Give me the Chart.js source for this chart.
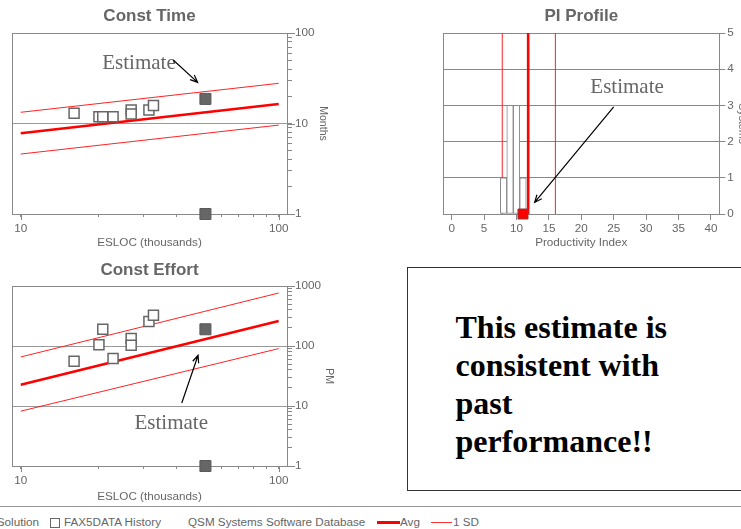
<!DOCTYPE html>
<html>
<head>
<meta charset="utf-8">
<script src="https://cdn.jsdelivr.net/npm/chart.js@4/dist/chart.umd.min.js"></script>
<style>
  html, body { margin: 0; padding: 0; background: #fff; }
  #page { position: relative; width: 741px; height: 529px; overflow: hidden; background: #fff;
          font-family: "Liberation Sans", Arial, sans-serif; color: #666; }
  canvas { position: absolute; }
  #cTime { left: 0; top: 0; }
  #cPi { left: 420px; top: 0; }
  #cEffort { left: 0; top: 254px; }
  #note { position: absolute; left: 407px; top: 267px; width: 400px; height: 224px; box-sizing: border-box;
          border: 1.5px solid #333; padding: 40px 0 0 47.5px; color: #000;
          font: bold 32px/38px "Liberation Serif", "Times New Roman", serif; }
  #rule { position: absolute; left: 0; top: 506px; width: 741px; height: 1px; background: #999; }
  .lg { position: absolute; top: 515px; font-size: 11.7px; line-height: 14px; white-space: nowrap; color: #666; }
  .sw { position: absolute; }
</style>
</head>
<body>
<div id="page">
  <canvas id="cTime" width="330" height="250"></canvas>
  <canvas id="cPi" width="330" height="250"></canvas>
  <canvas id="cEffort" width="336" height="250"></canvas>
  <div id="note">This estimate is<br>consistent with<br>past<br>performance!!</div>
  <div id="rule"></div>
  <div class="lg" style="right:702px">&#9632; Estimate Solution</div>
  <div class="sw" style="left:50px;top:518px;width:8px;height:8px;border:1px solid #666;"></div>
  <div class="lg" style="left:64px">FAX5DATA History</div>
  <div class="lg" style="left:188px">QSM Systems Software Database</div>
  <div class="sw" style="left:377px;top:520.5px;width:23px;height:3px;background:#f00;"></div>
  <div class="lg" style="left:400px">Avg</div>
  <div class="sw" style="left:431px;top:521.5px;width:21px;height:1px;background:#f33;"></div>
  <div class="lg" style="left:453px">1 SD</div>
</div>
<script>
// ---- size axis (ESLOC, thousands) ----
const sizeTicks = [10, 20, 30, 40, 50, 60, 70, 80, 90, 100];
const sizeTickLabels = [10, 100];

// ---- schedule axis (months) ----
const monthTicks = [1, 2, 3, 4, 5, 6, 7, 8, 9, 10, 20, 30, 40, 50, 60, 70, 80, 90, 100];
const monthTickLabels = [1, 10, 100];

// ---- effort axis (person-months) ----
const effortTicks = [1, 2, 3, 4, 5, 6, 7, 8, 9, 10, 20, 30, 40, 50, 60, 70, 80, 90,
                     100, 200, 300, 400, 500, 600, 700, 800, 900, 1000];
const effortTickLabels = [1, 10, 100, 1000];

// ---- productivity index axes ----
const piTicks = [0, 5, 10, 15, 20, 25, 30, 35, 40];
const systemTicks = [0, 1, 2, 3, 4, 5];

// ---- FAX5DATA history projects ----
const historySize   = [16.1, 20.1, 20.8, 22.8, 26.8, 26.8, 31.4, 32.7];
const historyTime   = [13.0, 11.9, 11.9, 11.9, 14.1, 12.7, 14.1, 15.8];
const historyEffort = [55.6, 105, 190, 61.7, 133, 103, 256, 325];

// ---- estimate solution ----
const estimateSize = 52;
const estimateTime = 18.7;
const estimateEffort = 190;
const estimateAxisValue = 1;

// ---- QSM database trend lines ----
const trendSize = [10, 100];
const timeAvg    = [7.8, 16.4];
const timeSdHigh = [13.3, 27.8];
const timeSdLow  = [4.6, 9.6];
const effortAvg    = [22.7, 261];
const effortSdHigh = [65.6, 764];
const effortSdLow  = [8.2, 90.5];

// ---- PI profile ----
const piBins   = [8, 9, 10, 11];
const piCounts = [1, 3, 3, 1];
const piAvg = 11.8;
const piSdLow = 7.8;
const piSdHigh = 16;
const piEstimate = 11;

// ---- callout anchors (data coordinates) ----
const timeCallout   = { text: 'Estimate', at: [20.7, 40.0], from: [39.0, 50.3], to: [48.5, 28.5] };
const effortCallout = { text: 'Estimate', at: [27.6, 4.09], from: [42.1, 11.2], to: [48.7, 70.0] };
const piCallout     = { text: 'Estimate', at: [21.4, 3.35], from: [25.0, 2.96], to: [12.8, 0.32] };

Chart.defaults.font.family = '"Liberation Sans", Arial, sans-serif';
Chart.defaults.font.size = 11.7;
Chart.defaults.color = '#666';

const pts = (xs, ys) => xs.map((x, i) => ({ x, y: ys[i] }));

// plot frame around the chart area
const framePlugin = {
  id: 'frame',
  beforeDatasetsDraw(chart) {
    const { ctx, chartArea: a } = chart;
    ctx.save();
    ctx.strokeStyle = '#888';
    ctx.lineWidth = 1;
    ctx.strokeRect(Math.round(a.left) + 0.5, Math.round(a.top) + 0.5,
                   Math.round(a.right - a.left), Math.round(a.bottom - a.top));
    ctx.restore();
  }
};

// longer tick marks for the labelled (major) values
const majorTickPlugin = {
  id: 'majorTicks',
  afterDraw(chart, args, opts) {
    if (!opts || !opts.x) return;
    const { ctx, chartArea: a, scales: { x, y } } = chart;
    ctx.save();
    ctx.strokeStyle = '#888';
    ctx.lineWidth = 1;
    ctx.beginPath();
    opts.x.forEach(v => {
      const p = Math.round(x.getPixelForValue(v)) + 0.5;
      ctx.moveTo(p, a.bottom);
      ctx.lineTo(p, a.bottom + opts.xLen);
    });
    opts.y.forEach(v => {
      const p = Math.round(y.getPixelForValue(v)) + 0.5;
      ctx.moveTo(a.right, p);
      ctx.lineTo(a.right + opts.yLen, p);
    });
    ctx.stroke();
    ctx.restore();
  }
};

// "Estimate" label with a pointer arrow
const calloutPlugin = {
  id: 'callout',
  afterDatasetsDraw(chart, args, opts) {
    if (!opts || !opts.text) return;
    const { ctx, scales: { x, y } } = chart;
    const px = p => [x.getPixelForValue(p[0]), y.getPixelForValue(p[1])];
    const [tx, ty] = px(opts.at);
    ctx.save();
    ctx.font = '21px "Liberation Serif", "Times New Roman", serif';
    ctx.fillStyle = '#666';
    ctx.textAlign = 'left';
    ctx.textBaseline = 'alphabetic';
    ctx.fillText(opts.text, tx, ty);
    const [x1, y1] = px(opts.from);
    const [x2, y2] = px(opts.to);
    const ang = Math.atan2(y2 - y1, x2 - x1);
    const h = 8;
    ctx.strokeStyle = '#000';
    ctx.lineWidth = 1.2;
    ctx.beginPath();
    ctx.moveTo(x1, y1);
    ctx.lineTo(x2, y2);
    ctx.moveTo(x2 - h * Math.cos(ang - 0.4), y2 - h * Math.sin(ang - 0.4));
    ctx.lineTo(x2, y2);
    ctx.lineTo(x2 - h * Math.cos(ang + 0.4), y2 - h * Math.sin(ang + 0.4));
    ctx.stroke();
    ctx.restore();
  }
};

function titleOpts(text, bottomPad) {
  return { display: true, text, color: '#666', fullSize: false,
           font: { size: 17, weight: 'bold' }, padding: { top: 6, bottom: bottomPad } };
}

function sizeAxis(height) {
  return {
    type: 'logarithmic', position: 'bottom', min: 9.25, max: 107.7,
    afterBuildTicks: s => { s.ticks = sizeTicks.map(v => ({ value: v })); },
    afterFit: s => { s.height = height; },
    border: { display: false },
    grid: { drawOnChartArea: false, tickLength: 3, tickColor: '#888', color: '#888' },
    ticks: { autoSkip: false, maxRotation: 0, padding: 5,
             callback: v => sizeTickLabels.includes(v) ? String(v) : '' },
    title: { display: true, text: 'ESLOC (thousands)', padding: { top: 0, bottom: 0 } }
  };
}

function logValueAxis(min, max, ticks, labels, gridAt, width, title) {
  return {
    type: 'logarithmic', position: 'right', min, max,
    afterBuildTicks: s => { s.ticks = ticks.map(v => ({ value: v })); },
    afterFit: s => { s.width = width; },
    border: { display: false },
    grid: { color: c => (c.tick && gridAt.includes(c.tick.value)) ? '#999' : 'rgba(0,0,0,0)',
            tickColor: '#888', tickLength: 5 },
    ticks: { autoSkip: false, padding: 3, callback: v => labels.includes(v) ? String(v) : '' },
    title: { display: true, text: title, font: { size: 10.5 }, padding: { top: 1, bottom: 0 } }
  };
}

function constDatasets(hist, estimate, avg, hi, lo) {
  return [
    { type: 'scatter', label: 'Estimate Solution',
      data: [{ x: estimateSize, y: estimate }, { x: estimateSize, y: estimateAxisValue }],
      pointStyle: 'rect', pointRadius: 7.8, backgroundColor: '#666', borderColor: '#5a5a5a',
      borderWidth: 1, clip: false, order: 0 },
    { type: 'scatter', label: 'FAX5DATA History', data: pts(historySize, hist),
      pointStyle: 'rect', pointRadius: 7.07, backgroundColor: '#fff', borderColor: '#666',
      borderWidth: 1.5, clip: false, order: 1 },
    { type: 'line', label: 'Avg', data: pts(trendSize, avg), borderColor: '#f00',
      borderWidth: 2.6, pointRadius: 0, order: 2 },
    { type: 'line', label: '1 SD', data: pts(trendSize, hi), borderColor: '#f22',
      borderWidth: 1, pointRadius: 0, order: 3 },
    { type: 'line', label: '1 SD', data: pts(trendSize, lo), borderColor: '#f22',
      borderWidth: 1, pointRadius: 0, order: 3 }
  ];
}

const common = { responsive: false, animation: false, devicePixelRatio: 1, events: [] };

// Const Time
new Chart(document.getElementById('cTime'), {
  type: 'scatter',
  data: { datasets: constDatasets(historyTime, estimateTime, timeAvg, timeSdHigh, timeSdLow) },
  options: Object.assign({}, common, {
    layout: { padding: { left: 12, right: 0, top: 0, bottom: 0 } },
    plugins: { legend: { display: false }, tooltip: { enabled: false },
               title: titleOpts('Const Time', 6.6), callout: timeCallout,
               majorTicks: { x: sizeTickLabels, y: monthTickLabels, xLen: 6, yLen: 8 } },
    scales: {
      x: sizeAxis(36),
      y: logValueAxis(1, 100, monthTicks, monthTickLabels, [10], 43, 'Months')
    }
  }),
  plugins: [framePlugin, calloutPlugin, majorTickPlugin]
});

// Const Effort
new Chart(document.getElementById('cEffort'), {
  type: 'scatter',
  data: { datasets: constDatasets(historyEffort, estimateEffort, effortAvg, effortSdHigh, effortSdLow) },
  options: Object.assign({}, common, {
    layout: { padding: { left: 12, right: 0, top: 0, bottom: 0 } },
    plugins: { legend: { display: false }, tooltip: { enabled: false },
               title: titleOpts('Const Effort', 5.6), callout: effortCallout,
               majorTicks: { x: sizeTickLabels, y: effortTickLabels, xLen: 6, yLen: 8 } },
    scales: {
      x: sizeAxis(38),
      y: logValueAxis(1, 1000, effortTicks, effortTickLabels, [10, 100], 49, 'PM')
    }
  }),
  plugins: [framePlugin, calloutPlugin, majorTickPlugin]
});

// PI Profile
new Chart(document.getElementById('cPi'), {
  type: 'bar',
  data: { datasets: [
    { type: 'scatter', label: 'Estimate Solution', data: [{ x: piEstimate, y: 0 }],
      pointStyle: 'rect', pointRadius: 7.07, backgroundColor: '#f00', borderColor: '#8a3a3a',
      borderWidth: 1, clip: false, order: 0 },
    { type: 'bar', label: 'FAX5DATA History', data: pts(piBins, piCounts),
      backgroundColor: '#fff', borderColor: '#888', borderWidth: 1, borderSkipped: false,
      barPercentage: 1, categoryPercentage: 1, order: 1 },
    { type: 'line', label: 'Avg', data: pts([piAvg, piAvg], [0, 5]), borderColor: '#f00',
      borderWidth: 2.6, pointRadius: 0, order: 2 },
    { type: 'line', label: '1 SD', data: pts([piSdLow, piSdLow], [0, 5]), borderColor: '#f22',
      borderWidth: 1, pointRadius: 0, order: 3 },
    { type: 'line', label: '1 SD', data: pts([piSdHigh, piSdHigh], [0, 5]), borderColor: '#f22',
      borderWidth: 1, pointRadius: 0, order: 3 }
  ] },
  options: Object.assign({}, common, {
    layout: { padding: { left: 23.3, right: 0, top: 0, bottom: 0 } },
    plugins: { legend: { display: false }, tooltip: { enabled: false },
               title: titleOpts('PI Profile', 6.6), callout: piCallout },
    scales: {
      x: {
        type: 'linear', position: 'bottom', min: -1.3, max: 41.3, offset: false,
        afterBuildTicks: s => { s.ticks = piTicks.map(v => ({ value: v })); },
        afterFit: s => { s.height = 36; },
        border: { display: false },
        grid: { offset: false, drawOnChartArea: false, tickLength: 6, tickColor: '#888', color: '#888' },
        ticks: { autoSkip: false, maxRotation: 0, padding: 2 },
        title: { display: true, text: 'Productivity Index', padding: { top: 0, bottom: 0 } }
      },
      y: {
        type: 'linear', position: 'right', min: 0, max: 5,
        afterBuildTicks: s => { s.ticks = systemTicks.map(v => ({ value: v })); },
        afterFit: s => { s.width = 30.7; },
        border: { display: false },
        grid: { color: '#888', tickColor: '#888', tickLength: 6 },
        ticks: { autoSkip: false, padding: 2 },
        title: { display: true, text: 'Systems', font: { size: 10.5 }, padding: { top: 1.7, bottom: 0 } }
      }
    }
  }),
  plugins: [framePlugin, calloutPlugin, majorTickPlugin]
});
</script>
</body>
</html>
